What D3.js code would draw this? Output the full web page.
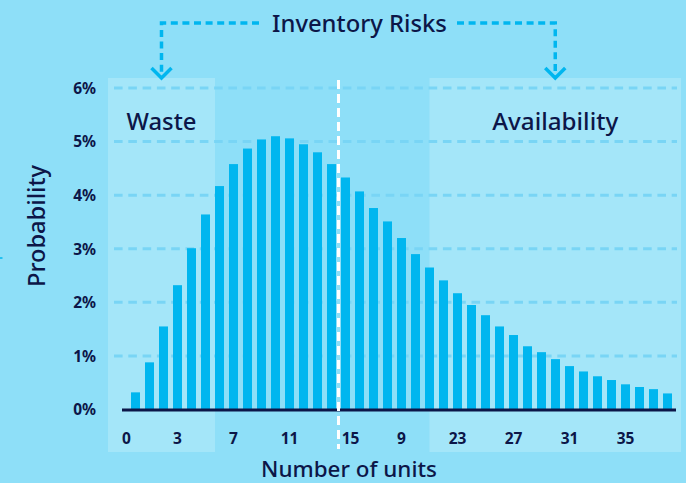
<!DOCTYPE html>
<html><head><meta charset="utf-8">
<script src="https://cdn.jsdelivr.net/npm/d3@7"></script>
<style>
html,body{margin:0;padding:0;background:#8edff8;}
svg{display:block;}
text{font-family:"Noto Sans",sans-serif;fill:#0c1648;}
</style></head><body>
<svg id="chart" width="686" height="483"></svg>
<script>
// ---- data ----
const units = [0,1,2,3,4,5,6,7,8,9,10,11,12,13,14,15,16,17,18,19,20,21,22,23,24,25,26,27,28,29,30,31,32,33,34,35,36,37,38];
const probability = [0.32,0.88,1.55,2.32,3.01,3.64,4.17,4.58,4.87,5.04,5.10,5.06,4.95,4.80,4.58,4.33,4.07,3.76,3.51,3.20,2.90,2.65,2.41,2.17,1.95,1.76,1.55,1.39,1.18,1.07,0.94,0.81,0.71,0.62,0.55,0.47,0.42,0.38,0.30];
const xTickUnits = [0,3,7,11,15,19,23,27,31,35];
const xTickLabels = ["0","3","7","11","15","9","23","27","31","35"];
const yTicks = [0,1,2,3,4,5,6];
const title = "Inventory Risks";
const wasteLabel = "Waste";
const availLabel = "Availability";
const wasteEndUnit = 6;
const availStartUnit = 21;
const medianSplit = 15;
const xTitle = "Number of units";
const yTitle = "Probability";

// ---- layout ----
const W = 686, H = 483;
const svg = d3.select("#chart");
const navy = "#0c1648", cyan = "#00b6ef";

const x = d3.scaleBand().domain(units).range([126, 677]).paddingInner(0.357).paddingOuter(0.357);
const y = d3.scaleLinear().domain([0, 6]).range([409.5, 88]);
const bw = x.bandwidth();

function fit(sel, w){
  const cur = sel.node().getComputedTextLength();
  const fs = parseFloat(sel.attr("font-size"));
  if (cur > 0) sel.attr("font-size", fs * w / cur);
  return sel;
}

// background
svg.append("rect").attr("width", W).attr("height", H).attr("fill", "#8edff8");

// panels
const panelTop = 78, panelBottom = 452;
const leftX1 = 108, leftX2 = x(wasteEndUnit);
const rightX1 = x(availStartUnit) + bw/2, rightX2 = 681;
svg.append("rect").attr("x", leftX1).attr("y", panelTop).attr("width", leftX2-leftX1).attr("height", panelBottom-panelTop).attr("fill", "#a4e6f9");
svg.append("rect").attr("x", rightX1).attr("y", panelTop).attr("width", rightX2-rightX1).attr("height", panelBottom-panelTop).attr("fill", "#a4e6f9");

// grid
svg.append("g").selectAll("line").data(yTicks.filter(d=>d>0)).join("line")
  .attr("x1", 114).attr("x2", 677)
  .attr("y1", d=>y(d)).attr("y2", d=>y(d))
  .attr("stroke", "#79d5f5").attr("stroke-width", 3).attr("stroke-dasharray", "8.6 5.7");

// bars
svg.append("g").selectAll("rect").data(units).join("rect")
  .attr("x", d=>x(d)).attr("width", bw)
  .attr("y", (d,i)=>y(probability[i])).attr("height", (d,i)=>y(0)-y(probability[i]))
  .attr("fill", cyan);

// baseline
svg.append("line").attr("x1", 122).attr("x2", 676).attr("y1", y(0)+0.5).attr("y2", y(0)+0.5)
  .attr("stroke", navy).attr("stroke-width", 3);

// median dashed line
const mx = x(medianSplit) - (x.step()-bw)/2;
svg.append("line").attr("x1", mx).attr("x2", mx).attr("y1", 80).attr("y2", 449)
  .attr("stroke", "#ffffff").attr("stroke-width", 3).attr("stroke-dasharray", "9 5");

// y ticks
svg.append("g").selectAll("text").data(yTicks).join("text")
  .attr("x", 96).attr("y", d=>y(d)+5.8).attr("text-anchor", "end")
  .attr("font-size", 15.5).attr("font-weight", 700).text(d=>d+"%");

// x ticks
svg.append("g").selectAll("text").data(xTickUnits).join("text")
  .attr("x", (d,i)=>x(d)+bw/2 + (i===0 ? -9 : (d===medianSplit ? 5 : 0)))
  .attr("y", 444).attr("text-anchor", "middle")
  .attr("font-size", 15.5).attr("font-weight", 700).text((d,i)=>xTickLabels[i]);

// panel labels
const leftC = (leftX1+leftX2)/2, rightC = (rightX1+rightX2)/2;
fit(svg.append("text").attr("x", leftC).attr("y", 130).attr("text-anchor", "middle")
  .attr("font-size", 22).attr("font-weight", 500).text(wasteLabel), 70);
fit(svg.append("text").attr("x", rightC).attr("y", 129.5).attr("text-anchor", "middle")
  .attr("font-size", 22).attr("font-weight", 500).text(availLabel), 126);

// title
const titleC = 359.5;
fit(svg.append("text").attr("x", titleC).attr("y", 31.5).attr("text-anchor", "middle")
  .attr("font-size", 22).attr("font-weight", 500).text(title), 175);

// bracket
const by = 23;
const bracket = svg.append("g").attr("fill", "none").attr("stroke", cyan).attr("stroke-width", 3.5);
bracket.append("path").attr("d", `M259,${by}H${leftC}V76`).attr("stroke-dasharray", "7 4.6");
bracket.append("path").attr("d", `M457,${by}H${rightC}V76`).attr("stroke-dasharray", "7 4.6");
[leftC, rightC].forEach(cx=>{
  bracket.append("path").attr("d", `M${cx-10},68L${cx},78L${cx+10},68`).attr("stroke-linejoin","miter");
});

// axis titles
fit(svg.append("text").attr("x", 349).attr("y", 477).attr("text-anchor", "middle")
  .attr("font-size", 21).attr("font-weight", 500).text(xTitle), 176);
fit(svg.append("text").attr("transform", "translate(45,226) rotate(-90)").attr("text-anchor", "middle")
  .attr("font-size", 21).attr("font-weight", 500).text(yTitle), 122);

// small edge mark
svg.append("line").attr("x1", 0).attr("x2", 2.5).attr("y1", 258).attr("y2", 258).attr("stroke", cyan).attr("stroke-width", 1.5);
</script>
</body></html>
